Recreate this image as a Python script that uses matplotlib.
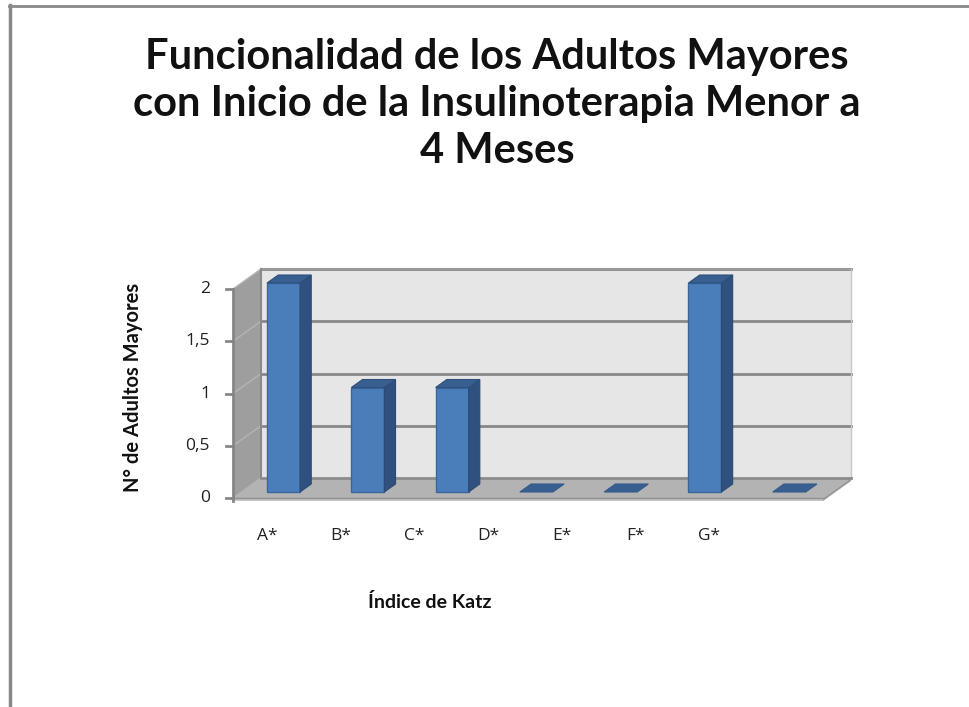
import matplotlib
matplotlib.use("Agg")
import numpy as np
import matplotlib.pyplot as plt
from matplotlib.patches import Polygon
from matplotlib.lines import Line2D

# data
categorias = ['A*', 'B*', 'C*', 'D*', 'E*', 'F*', 'G*']
adultos = [2, 1, 1, 0, 0, 2, 0]
yticks = [0, 0.5, 1, 1.5, 2]
ytick_labels = ['0', '0,5', '1', '1,5', '2']
titulo = 'Funcionalidad de los Adultos Mayores\ncon Inicio de la Insulinoterapia Menor a\n4 Meses'
xlabel = 'Índice de Katz'
ylabel = 'N° de Adultos Mayores'

W, H = 970, 707
fig = plt.figure(figsize=(W/100, H/100), dpi=100)
fx = lambda x: x/W
fy = lambda y: 1 - y/H

# front plane of the 3d box in pixels
x0, x1 = 233, 823
y0, y2 = 498, 289
ax = fig.add_axes([fx(x0), fy(y0), (x1-x0)/W, (y0-y2)/H])
n = len(categorias)
ax.set_xlim(-0.5, n-0.5)
ax.set_ylim(0, 2)
ax.axis('off')

# depth offset (data units)
ux = (x1-x0)/n           # px per category
uy = (y0-y2)/2.0         # px per unit value
dx, dy = 28/ux, 20/uy
ymax = 2

def poly(pts, fc, ec='none', lw=0, z=1):
    ax.add_patch(Polygon(pts, closed=True, fc=fc, ec=ec, lw=lw, zorder=z, clip_on=False))

L, R = -0.5, n-0.5
# back wall
poly([(L+dx, dy), (R+dx, dy), (R+dx, ymax+dy), (L+dx, ymax+dy)], '#e6e6e6', z=1)
for t in yticks[1:]:
    ax.plot([L+dx, R+dx], [t+dy, t+dy], color='#888888', lw=2, zorder=2, clip_on=False)
ax.plot([L+dx, R+dx], [ymax+dy, ymax+dy], color='#9a9a9a', lw=1.5, zorder=2, clip_on=False)
ax.plot([R+dx, R+dx], [dy, ymax+dy], color='#c8c8c8', lw=1, zorder=2, clip_on=False)
# left wall
poly([(L, 0), (L+dx, dy), (L+dx, ymax+dy), (L, ymax)], '#9e9e9e', z=3)
for t in yticks:
    ax.plot([L, L+dx], [t, t+dy], color='#b4b4b4', lw=1, zorder=3, clip_on=False)
ax.plot([L+dx, L+dx], [dy, ymax+dy], color='#8a8a8a', lw=1.5, zorder=3, clip_on=False)
# floor
th = 3/uy
poly([(L, 0), (R, 0), (R+dx, dy), (L+dx, dy)], '#b3b3b3', z=3)
poly([(L, -th), (R, -th), (R, 0), (L, 0)], '#c4c4c4', z=3)
poly([(R, -th), (R+dx, dy-th), (R+dx, dy), (R, 0)], '#9a9a9a', z=3)
ax.plot([L+dx, R+dx], [dy, dy], color='#8c8c8c', lw=2, zorder=3, clip_on=False)
ax.plot([L, R], [0, 0], color='#909090', lw=1, zorder=3, clip_on=False)

# y axis line and ticks
ax.plot([L, L], [-th, ymax], color='#868686', lw=2, zorder=6, clip_on=False)
for t, lab in zip(yticks, ytick_labels):
    ax.plot([L-7/ux, L], [t, t], color='#868686', lw=2, zorder=6, clip_on=False)
    ax.text(L-23/ux, t, lab, ha='right', va='center', fontsize=12.5,
            family='Open Sans', color='#222222')

# bars
bw = 33/ux
d0, d1 = 0.3, 0.7
for i, v in enumerate(adultos):
    xl = i - bw/2
    bx0, by0 = xl + d0*dx, d0*dy
    ddx, ddy = (d1-d0)*dx, (d1-d0)*dy
    if v > 0:
        ax.bar(i + d0*dx, v, width=bw, bottom=by0, color='#4a7ebb',
               edgecolor='#3b669a', lw=1, zorder=5, clip_on=False)
        poly([(bx0+bw, by0), (bx0+bw+ddx, by0+ddy), (bx0+bw+ddx, by0+v+ddy), (bx0+bw, by0+v)],
             '#30517f', ec='#2b4a74', lw=0.8, z=5)
        poly([(bx0, by0+v), (bx0+bw, by0+v), (bx0+bw+ddx, by0+v+ddy), (bx0+ddx, by0+v+ddy)],
             '#385f90', ec='#2e4f7a', lw=0.8, z=5)
    else:
        poly([(bx0, by0), (bx0+bw, by0), (bx0+bw+ddx, by0+ddy), (bx0+ddx, by0+ddy)],
             '#385f90', ec='#345a88', lw=0.8, z=5)

# category labels
for i, lab in enumerate(categorias):
    fig.text(fx(267 + i*73.7), fy(536), lab, ha='center', va='center',
             fontsize=12.5, family='Open Sans', color='#222222')

fig.text(fx(430), fy(602), xlabel, ha='center', va='center', fontsize=14,
         family='Lato', fontweight='bold', color='#111111')
fig.text(fx(133), fy(387), ylabel, ha='center', va='center', rotation=90,
         fontsize=14.5, family='Lato', fontweight='bold', color='#111111')
fig.text(fx(497), fy(104), titulo, ha='center', va='center', fontsize=30,
         family='Lato', fontweight='bold', color='#111111', linespacing=1.28)

# chart frame
fig.add_artist(Line2D([fx(10.5), fx(10.5)], [fy(5), 0], color='#888888', lw=2.5))
fig.add_artist(Line2D([fx(9), 1], [fy(6), fy(6)], color='#888888', lw=2))

fig.savefig('out.png', dpi=100, facecolor='white')
